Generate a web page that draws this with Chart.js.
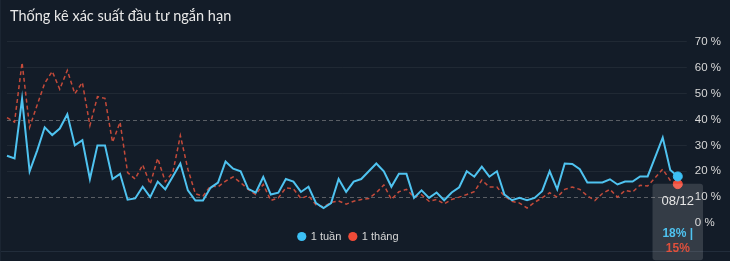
<!DOCTYPE html>
<html>
<head>
<meta charset="utf-8">
<script src="https://cdn.jsdelivr.net/npm/chart.js@4"></script>
<style>
  body { margin: 0; background: #131c28; }
  #wrap { position: relative; width: 730px; height: 261px; background: #131c28; overflow: hidden; }
  .rule { position: absolute; background: #222d3b; }
  #chart { position: absolute; left: 0; top: 0; }
</style>
</head>
<body>
<div id="wrap">
  <div class="rule" style="left:0;top:251px;width:730px;height:1px"></div>
  <div class="rule" style="left:0;top:0;width:1px;height:261px;background:#1b2532"></div>
  <canvas id="chart" width="730" height="261"></canvas>
</div>
<script>
// trading days (dd/mm), last one is 08/12
const days = [
  "07/08", "08/08", "09/08", "10/08", "11/08", "14/08", "15/08", "16/08", "17/08", "18/08",
  "21/08", "22/08", "23/08", "24/08", "25/08", "28/08", "29/08", "30/08", "31/08",
  "01/09", "04/09", "05/09", "06/09", "07/09", "08/09", "11/09", "12/09", "13/09", "14/09",
  "15/09", "18/09", "19/09", "20/09", "21/09", "22/09", "25/09", "26/09", "27/09", "28/09", "29/09",
  "02/10", "03/10", "04/10", "05/10", "06/10", "09/10", "10/10", "11/10", "12/10", "13/10",
  "16/10", "17/10", "18/10", "19/10", "20/10", "23/10", "24/10", "25/10", "26/10", "27/10",
  "30/10", "31/10",
  "01/11", "02/11", "03/11", "06/11", "07/11", "08/11", "09/11", "10/11", "13/11", "14/11",
  "15/11", "16/11", "17/11", "20/11", "21/11", "22/11", "23/11", "24/11", "27/11", "28/11",
  "29/11", "30/11",
  "01/12", "04/12", "05/12", "06/12", "07/12", "08/12"
];

// 1 tuần (%)
const weekSeries = [
  26, 25, 48, 20, 28, 37, 34, 36.5, 42, 30,
  32, 17, 30, 30, 17, 19, 9, 9.5, 14, 10,
  16, 13, 18, 23, 12.6, 8.7, 8.7, 13.6, 15.6, 23.8,
  21, 20, 13.2, 11.7, 17.8, 11, 11.7, 17, 16, 12,
  14, 7.7, 5.8, 7.7, 17, 12, 16, 17, 20, 23,
  20, 14, 19, 19, 9.7, 12.6, 9.7, 11.8, 8.8, 11.8,
  13.8, 20, 17.9, 21.8, 17.9, 20, 11, 8.8, 9.7, 8.8,
  9.7, 12.3, 20, 13, 23, 22.8, 20.8, 15.7, 15.7, 15.7,
  16.9, 14.9, 16, 16, 18, 18, 25.5, 33, 20.5, 18
];

// 1 tháng (%)
const monthSeries = [
  40.7, 39, 62, 37, 45.6, 54, 58.6, 51.7, 59, 50,
  54.3, 37.7, 48.8, 48.2, 31.2, 39, 19.5, 17, 22.5, 15,
  25, 16, 19.5, 33.8, 20.8, 11.3, 10.4, 14.3, 14, 16.2,
  17.8, 15.6, 13, 11, 14.9, 8.7, 9.7, 13.6, 13.2, 9.5,
  10.6, 7, 6.2, 8, 8.5, 7.3, 8.4, 9.1, 9.5, 11.7,
  14.7, 9.1, 12.1, 13, 10, 10.9, 8.4, 9.1, 7.4, 9.1,
  10, 11, 12.1, 16.6, 13.9, 13.9, 10.4, 8.4, 7.7, 5.8,
  8, 9.7, 11.7, 10, 13, 13.9, 13, 10.5, 8.7, 11.4,
  13, 10, 12.6, 12, 14.6, 14.3, 17.5, 20.8, 16.5, 15
];

const yTicks = [0, 10, 20, 30, 40, 50, 60, 70];
const refLevels = [10, 40];

const blue = "#4fc3f0";
const red = "#c44a3a";
const redDot = "#f04b38";

// dashed reference lines at 10% and 40%, small nudges for title and legend
const refLinesPlugin = {
  id: "refLines",
  afterLayout(chart) {
    chart.titleBlock.left += 3;
    chart.titleBlock.right += 3;
    chart.legend.left += 6;
    chart.legend.right += 6;
  },
  beforeDatasetsDraw(chart) {
    const { ctx, chartArea } = chart;
    const y = chart.scales.y;
    ctx.save();
    ctx.strokeStyle = "rgba(150,150,150,0.55)";
    ctx.lineWidth = 1;
    ctx.setLineDash([4, 3]);
    refLevels.forEach((v) => {
      const py = Math.round(y.getPixelForValue(v)) + 0.5;
      ctx.beginPath();
      ctx.moveTo(chartArea.left, py);
      ctx.lineTo(chartArea.right + 9, py);
      ctx.stroke();
    });
    ctx.restore();
  },
};

const chart = new Chart(document.getElementById("chart"), {
  type: "line",
  data: {
    labels: days,
    datasets: [
      {
        label: "1 tuần",
        data: weekSeries,
        borderColor: blue,
        backgroundColor: blue,
        borderWidth: 2,
        pointRadius: 0,
        pointHoverRadius: 4.5,
        pointHoverBorderWidth: 1,
        pointHoverBackgroundColor: "#3cc0f5",
        pointHoverBorderColor: "#3cc0f5",
        tension: 0,
        clip: false,
      },
      {
        label: "1 tháng",
        data: monthSeries,
        borderColor: red,
        backgroundColor: redDot,
        borderWidth: 1.5,
        borderDash: [4, 3],
        pointRadius: 0,
        pointHoverRadius: 4.5,
        pointHoverBorderWidth: 1,
        pointHoverBackgroundColor: redDot,
        pointHoverBorderColor: redDot,
        tension: 0,
        clip: false,
      },
    ],
  },
  options: {
    responsive: false,
    animation: false,
    layout: { padding: { left: 7, right: 1, top: 0, bottom: 9 } },
    interaction: { mode: "index", intersect: false },
    scales: {
      x: { display: false },
      y: {
        position: "right",
        min: 0,
        max: 70,
        afterBuildTicks: (scale) => {
          scale.ticks = yTicks.map((v) => ({ value: v }));
        },
        border: { display: false },
        grid: {
          drawTicks: true,
          tickLength: 9,
          color: (c) =>
            c.tick && (c.tick.value === 0 || refLevels.includes(c.tick.value))
              ? "rgba(0,0,0,0)"
              : "rgba(255,255,255,0.06)",
        },
        ticks: {
          padding: 8,
          color: "#d8d8d8",
          font: { family: "'Liberation Sans', Arial, sans-serif", size: 11.5 },
          callback: (v) => v + " %",
        },
      },
    },
    plugins: {
      title: {
        display: true,
        text: "Thống kê xác suất đầu tư ngắn hạn",
        align: "start",
        color: "#e8e8e8",
        font: { family: "Lato, sans-serif", size: 14.5, weight: "normal" },
        padding: { top: 8, bottom: 16.5 },
      },
      legend: {
        position: "bottom",
        fullSize: false,
        labels: {
          usePointStyle: true,
          pointStyle: "circle",
          boxWidth: 7,
          boxHeight: 6.5,
          padding: 8,
          color: "#d8d8d8",
          font: { family: "'Liberation Sans', Arial, sans-serif", size: 11 },
          generateLabels: (c) =>
            Chart.defaults.plugins.legend.labels.generateLabels(c).map((item, i) => {
              item.lineDash = [];
              item.lineWidth = 0;
              item.fillStyle = i === 0 ? "#3cc0f5" : redDot;
              item.strokeStyle = item.fillStyle;
              return item;
            }),
        },
      },
      tooltip: {
        enabled: true,
        backgroundColor: "rgba(255,255,255,0.14)",
        displayColors: false,
        caretSize: 0,
        caretPadding: 3.5,
        cornerRadius: 3,
        xAlign: "center",
        yAlign: "top",
        padding: { top: 10, bottom: 4, left: 9, right: 9 },
        titleAlign: "center",
        bodyAlign: "center",
        titleColor: "#e6e6e6",
        titleFont: { family: "'Liberation Sans', Arial, sans-serif", size: 13, weight: "normal" },
        titleMarginBottom: 17,
        bodyFont: { family: "'Liberation Sans', Arial, sans-serif", size: 12, weight: "bold" },
        bodySpacing: 1,
        callbacks: {
          title: (items) => items[0].label,
          label: (item) => Math.round(item.parsed.y) + "%" + (item.datasetIndex === 0 ? " |" : ""),
          labelTextColor: (item) => (item.datasetIndex === 0 ? "#4fc3f0" : "#e0503c"),
        },
      },
    },
  },
  plugins: [refLinesPlugin],
});

// show the last day as in the reference
const last = days.length - 1;
const active = [
  { datasetIndex: 0, index: last },
  { datasetIndex: 1, index: last },
];
const pt = chart.getDatasetMeta(0).data[last];
chart.setActiveElements(active);
chart.tooltip.setActiveElements(active, { x: pt.x, y: pt.y });
chart.update();
</script>
</body>
</html>
